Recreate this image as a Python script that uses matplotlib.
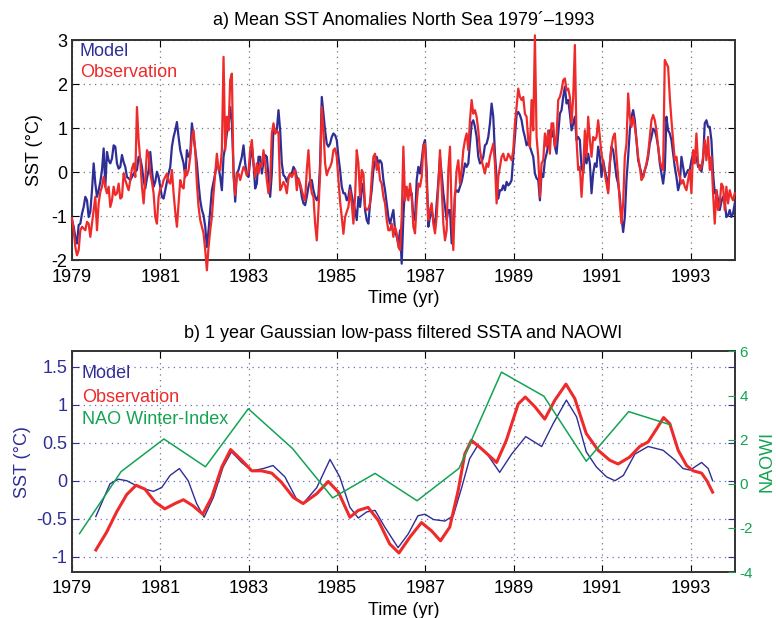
import numpy as np
import matplotlib
matplotlib.use('Agg')
import matplotlib.pyplot as plt

plt.rcParams['font.family'] = ['Liberation Sans', 'DejaVu Sans']
plt.rcParams['axes.unicode_minus'] = False

BLUE = '#2e2e96'
RED = '#ee2a2a'
GREEN = '#14a352'

# ---- panel a: SST anomalies (deg C), about two-weekly samples 1979-1994
model_79 = [-1.09, -1.24, -1.47, -1.62, -1.20, -1.17, -0.94, -0.79, -0.56, -0.64,
            -1.02, -0.90, -0.41, 0.20, -0.26, -0.56, -0.41, -0.22, 0.05, 0.54,
            -0.33, 0.46, 0.27, 0.20, 0.31, 0.61, 0.58, 0.20, 0.08, 0.12,
            0.39, 0.23, 0.12, -0.11, -0.14, -0.18, -0.11, -0.03, 0.01, 0.05,
            0.35, 0.31, 0.12, -0.18, -0.37, -0.14, 0.05, 0.46, 0.05, -0.33,
            -0.22, 0.01, -0.11, -0.33, -0.56, -0.60, -0.41, -0.22, -0.03, 0.12,
            0.58, 0.80, 0.95, 1.14, 0.80, 0.50, 0.35, 0.20, -0.11, 0.50,
            0.35, 0.42, 1.11, 0.80, 0.50, 0.20, -0.26, -0.64, -0.86, -0.98,
            -1.24, -1.70, -1.32, -0.86, -0.41, -0.22, -0.03, 0.20, 0.12, -0.11,
            -0.41, 0.35, 0.58, 0.88, 1.11]
model_82 = [1.48, 1.11, 0.05, -0.67, -0.03, 0.05, 0.20, 0.35, 0.61, 0.20,
            -0.07, -0.11, 0.27, 0.61, 0.20, -0.37, -0.26, 0.35, 0.35, -0.03,
            0.23, 0.39, 0.35, -0.11, -0.56, -0.03, 1.03, 0.88, 0.95, 1.41,
            0.95, 0.20, -0.07, -0.11, -0.22, -0.11, -0.03, -0.03, 0.12, 0.05,
            -0.11, -0.18, -0.30, -0.56, -0.71, -0.75, -0.56, -0.33, -0.18, -0.18,
            -0.41, -0.56, -0.64, -0.52, 0.20, 1.71, 1.33, 0.95, 0.65, 0.58,
            0.65, 0.80, 0.88, 0.84, 0.73, 0.35, 0.05, -0.33, -0.48, -0.48,
            -0.64, -0.56, -0.30, -0.52, -0.71, -0.86, -1.09, -0.56, -0.79, -0.41,
            -0.26, -0.86, -1.09, -1.17, -0.71, -0.41, 0.05, 0.23, 0.35, 0.20,
            0.27, 0.20, -0.18, -0.41, -0.71, -1.02]
model_86 = [-1.17, -1.02, -0.86, -1.32, -1.47, -1.62, -1.32, -2.08, -1.02, -0.33,
            -0.52, -0.41, -0.52, -0.48, -1.02, -1.09, -0.18, 0.12, -0.03, 0.27,
            0.61, 0.73, 0.05, -1.24, -1.02, -0.86, -1.09, -1.24, -0.71, -0.22,
            0.35, -0.03, -0.48, -0.79, -1.09, -0.86, -0.86, -1.62, -1.32, -0.48,
            -0.41, -0.45, -0.33, -0.22, -0.03, 0.20, 0.12, 0.20, 0.65, 1.11,
            1.18, 1.03, 0.80, 0.35, 0.20, 0.23, 0.35, 0.61, 0.65, 0.80,
            1.11, 1.56, 1.26, 0.42, -0.11, -0.60, -0.41, -0.41, -0.30, -0.41,
            -0.22, -0.30, -0.26, -0.18, 0.35, 0.80, 1.30, 1.37, 1.30, 1.18,
            0.95, 0.80, 0.61, 0.69, 0.58, 0.46, 0.35, -0.03, -0.14, -0.18,
            -0.64, -0.03, -0.11, 0.27, 0.42, 0.61]
model_89 = [0.95, 0.80, 0.95, 0.58, 0.42, 0.88, 1.33, 1.41, 1.71, 1.94,
            1.56, 1.64, 1.33, 0.95, 1.11, 1.26, 0.73, 0.80, 0.73, 0.12,
            -0.03, 0.42, 0.20, 0.42, 0.20, -0.48, -0.03, 0.20, 0.12, 0.58,
            0.35, -0.11, 0.27, 0.05, -0.11, -0.41, 0.20, 0.58, 0.50, 0.20,
            -0.11, -0.26, -0.56, -1.02, -1.36, -1.02, -0.18, 0.35, 0.95, 1.26,
            1.41, 1.18, 0.73, 0.27, 0.12, -0.03, -0.11, 0.05, 0.16, 0.35,
            0.65, 0.80, 0.99, 0.95, 0.80, 0.58, 0.20, -0.03, -0.26, 0.05,
            1.26, 0.95, 0.88, 0.73, 0.42, 0.12, -0.11, -0.41, -0.26, 0.35,
            0.12, -0.11, -0.03, 0.05, 0.05, 0.27, 0.42, 0.23, 0.35, 0.12,
            0.16, 0.01, 0.27, 1.11, 1.18, 1.03, 1.03, 0.73, -0.03, -0.48,
            -0.41, -0.64, -0.86, -0.67, -0.56, -0.67, -1.02, -0.98, -0.86, -1.02,
            -0.94, -0.71]

obs_79 = [-1.05, -1.32, -1.70, -1.89, -1.77, -1.32, -1.24, -1.28, -1.32, -1.13,
          -1.17, -1.47, -1.17, -0.86, -0.56, -1.32, -0.71, -0.45, -0.33, -0.11,
          -0.33, -0.48, -0.33, -0.79, -0.64, -0.33, -0.52, -0.48, -0.26, -0.60,
          -0.56, -0.03, -0.18, -0.30, -0.41, -0.18, 0.08, 0.20, -0.11, 1.48,
          0.73, 0.27, -0.33, -0.71, -0.18, 0.50, 0.42, -0.03, -0.22, -0.48,
          -1.02, -1.17, -0.56, -0.37, -0.33, -0.18, -0.11, -0.03, -0.22, -0.26,
          0.05, -0.48, -0.90, -1.24, -0.71, -0.18, -0.33, -0.37, 0.05, -0.07,
          0.05, 0.35, 0.80, 0.95, 0.50, -0.26, -0.79, -1.09, -1.24, -1.39,
          -1.77, -2.23, -1.70, -1.32, -1.02, -0.48, -0.03, 0.42, 0.05, 0.05,
          0.50, 2.62, 0.50, 1.26, 0.95]
obs_82 = [2.09, 2.24, -0.11, -0.52, -0.03, -0.03, -0.18, -0.03, 0.12, 0.05,
          -0.07, 0.01, 0.50, 0.73, 0.20, -0.11, 0.20, -0.03, 0.20, 0.12,
          0.50, 0.20, -0.18, -0.48, -0.18, 0.88, 1.11, 0.88, 0.95, 0.88,
          -0.41, -0.33, -0.22, -0.30, -0.48, -0.14, -0.03, -0.11, -0.03, 0.05,
          -0.41, -0.14, -0.26, -0.41, -0.56, -0.64, 0.05, 0.50, -0.18, -0.48,
          -0.56, -1.17, -1.55, -0.86, -0.03, 1.48, 0.95, 0.20, -0.07, 0.05,
          0.12, 0.23, 0.50, 0.54, 0.35, -0.18, -0.67, -1.02, -1.40, -1.02,
          -0.90, -0.79, -0.41, -0.71, -1.17, -0.56, 0.50, 0.20, -0.56, 0.05,
          -0.03, -0.79, -0.86, -0.83, -0.71, -0.11, 0.35, 0.42, 0.05, 0.20,
          -0.18, -0.26, -0.56, -0.71, -1.09, -1.32]
obs_86 = [-1.32, -1.17, -1.47, -1.24, -1.39, -1.70, -1.77, -1.02, 0.58, -0.64,
          -0.33, -0.64, -0.26, -0.56, -1.24, -1.39, -0.71, -0.26, -0.33, -0.11,
          0.58, 0.65, -0.26, -1.09, -0.86, -0.71, -1.17, -1.39, -1.02, -0.33,
          0.50, -0.33, -1.17, -1.55, -1.32, 0.05, 0.58, -0.94, -1.77, -0.56,
          0.05, 0.27, -0.26, 0.05, 0.50, 0.73, 0.88, 0.50, 1.18, 1.64,
          1.33, 1.41, 1.26, 0.95, 0.50, 0.27, 0.12, -0.03, 0.20, 0.12,
          0.35, 0.50, 0.65, 0.20, -0.71, -0.11, 0.12, 0.35, 0.42, 0.27,
          0.27, 0.42, 0.35, 0.27, 0.50, 1.11, 1.48, 1.90, 1.71, 1.64,
          1.71, 1.33, 1.26, 0.73, 0.58, 1.64, 0.95, 3.11, 0.80, 0.35,
          -0.56, 0.20, 0.27, 0.88, 0.58, 0.95]
obs_89 = [0.42, 1.11, 1.11, 0.58, 0.80, 1.64, 1.71, 1.86, 2.09, 2.13,
          1.86, 1.90, 1.71, 1.11, 1.71, 2.89, 0.73, 0.05, 0.12, -0.56,
          0.05, 0.95, 0.35, 1.26, 0.73, 0.35, 0.80, 0.73, 0.80, 1.18,
          0.80, 0.42, 0.20, -0.03, -0.26, -0.48, 0.20, 0.58, 0.80, 0.88,
          0.35, -0.11, -0.71, -1.17, -0.71, 0.35, 0.65, 1.79, 1.26, 1.03,
          1.26, 1.03, 0.73, 0.35, 0.12, -0.18, -0.11, 0.05, 0.20, 0.42,
          0.80, 1.18, 1.30, 1.18, 0.95, 0.58, 0.27, 0.12, 0.05, 2.55,
          2.47, 2.39, 1.71, 1.18, 0.73, 0.27, 0.35, 0.05, -0.11, -0.26,
          -0.18, -0.33, -0.41, -0.18, 0.05, -0.48, 0.50, 0.20, 0.88, 0.20,
          0.05, 0.12, 0.35, 0.73, 0.27, 0.80, 0.05, 0.35, -0.48, -1.17,
          -0.41, -0.86, -0.71, -0.26, -0.33, -0.86, -0.33, -0.71, -0.41, -0.56,
          -0.64, -0.48]

model_sst = model_79 + model_82 + model_86 + model_89
obs_sst = obs_79 + obs_82 + obs_86 + obs_89
t_sst = np.linspace(1979.0, 1994.0, len(model_sst))

# ---- panel b: 1 year low-pass filtered SSTA and NAO winter index
lp_model_t = [1979.54, 1979.86, 1980.05, 1980.24, 1980.54, 1980.84, 1981.03, 1981.22,
              1981.43, 1981.63, 1981.82, 1981.99, 1982.20, 1982.42, 1982.61, 1982.84,
              1983.07, 1983.33, 1983.55, 1983.82, 1984.08, 1984.23, 1984.54, 1984.84,
              1985.06, 1985.29, 1985.48, 1985.67, 1985.86, 1986.08, 1986.38, 1986.61,
              1986.83, 1986.99, 1987.18, 1987.44, 1987.63, 1987.82, 1988.00, 1988.19,
              1988.42, 1988.68, 1988.95, 1989.27, 1989.63, 1989.89, 1990.19, 1990.42,
              1990.64, 1990.87, 1991.10, 1991.29, 1991.48, 1991.74, 1992.04, 1992.38,
              1992.65, 1992.83, 1992.99, 1993.25, 1993.40, 1993.50]
lp_model = [-0.47, -0.04, 0.02, 0.00, -0.09, -0.14, -0.09, 0.07,
            0.16, 0.00, -0.30, -0.48, -0.22, 0.18, 0.38, 0.24,
            0.13, 0.16, 0.20, 0.05, -0.24, -0.30, -0.09, 0.28,
            0.05, -0.35, -0.49, -0.41, -0.39, -0.61, -0.88, -0.70,
            -0.46, -0.44, -0.51, -0.53, -0.46, -0.09, 0.29, 0.47,
            0.33, 0.11, 0.35, 0.58, 0.45, 0.75, 1.06, 0.84,
            0.38, 0.18, 0.05, 0.00, 0.07, 0.35, 0.45, 0.40,
            0.27, 0.16, 0.14, 0.24, 0.16, 0.00]
lp_obs_t = [1979.54, 1979.78, 1980.01, 1980.24, 1980.45, 1980.65, 1980.88, 1981.10,
            1981.33, 1981.52, 1981.74, 1981.96, 1982.16, 1982.39, 1982.59, 1982.84,
            1983.07, 1983.29, 1983.52, 1983.74, 1984.01, 1984.23, 1984.54, 1984.80,
            1985.03, 1985.29, 1985.48, 1985.70, 1985.93, 1986.19, 1986.40, 1986.65,
            1986.91, 1987.14, 1987.34, 1987.55, 1987.74, 1987.89, 1988.04, 1988.27,
            1988.61, 1988.83, 1989.10, 1989.26, 1989.48, 1989.70, 1989.93, 1990.18,
            1990.38, 1990.64, 1990.91, 1991.17, 1991.36, 1991.62, 1991.85, 1992.04,
            1992.23, 1992.39, 1992.53, 1992.72, 1992.91, 1993.06, 1993.25, 1993.37,
            1993.50]
lp_obs = [-0.91, -0.68, -0.41, -0.18, -0.06, -0.11, -0.28, -0.37,
          -0.30, -0.25, -0.33, -0.44, -0.22, 0.18, 0.41, 0.27,
          0.13, 0.13, 0.10, -0.02, -0.22, -0.30, -0.17, -0.01,
          -0.15, -0.48, -0.39, -0.35, -0.52, -0.83, -0.95, -0.74,
          -0.55, -0.66, -0.79, -0.61, -0.13, 0.35, 0.53, 0.42,
          0.24, 0.53, 1.01, 1.10, 0.97, 0.81, 1.06, 1.27,
          1.08, 0.62, 0.40, 0.27, 0.22, 0.31, 0.45, 0.51,
          0.68, 0.83, 0.75, 0.40, 0.20, 0.13, 0.10, 0.00,
          -0.15]
nao_t = [1979.17, 1980.11, 1981.08, 1982.02, 1982.99, 1983.99, 1984.90, 1985.86,
         1986.81, 1987.76, 1988.72, 1989.68, 1990.64, 1991.60, 1992.55]
nao = [-2.26, 0.55, 2.03, 0.77, 3.40, 1.60, -0.64, 0.47,
       -0.77, 0.70, 5.06, 3.97, 1.02, 3.27, 2.67]

year_ticks = list(range(1979, 1994, 2))
lp_ticks = [-1, -0.5, 0, 0.5, 1, 1.5]
lp_tick_labels = ['-1', '-0.5', '0', '0.5', '1', '1.5']

fig = plt.figure(figsize=(7.76, 6.18), dpi=100)

# top panel
ax = fig.add_axes([0.0928, 0.579, 0.854, 0.356])
ax.plot(t_sst, model_sst, color=BLUE, lw=1.6, clip_on=False, zorder=3)
ax.plot(t_sst, obs_sst, color=RED, lw=1.6, clip_on=False, zorder=4)
ax.set_xlim(1979, 1994)
ax.set_ylim(-2, 3)
ax.set_xticks(year_ticks)
ax.set_yticks(range(-2, 4))
ax.grid(True, linestyle=(0, (1, 3.5)), color='#777777', lw=0.9)
ax.tick_params(direction='in', top=True, right=True, length=5, labelsize=13)
ax.tick_params(axis='x', pad=6)
for s in ax.spines.values():
    s.set_linewidth(1.4)
    s.set_color('#333333')
ax.set_title('a) Mean SST Anomalies North Sea 1979\u00b4\u20131993', fontsize=13, pad=11)
ax.set_xlabel('Time (yr)', fontsize=13, labelpad=3)
ax.set_ylabel('SST (\u00b0C)', fontsize=13, labelpad=6)
ax.text(0.012, 0.95, 'Model', color=BLUE, fontsize=13, va='center', transform=ax.transAxes)
ax.text(0.012, 0.855, 'Observation', color=RED, fontsize=13, va='center', transform=ax.transAxes)

# bottom panel
bx = fig.add_axes([0.0928, 0.0744, 0.854, 0.357])
bx.plot(lp_model_t, lp_model, color=BLUE, lw=1.0, zorder=3)
bx.plot(lp_obs_t, lp_obs, color=RED, lw=2.2, zorder=4)
bx.set_xlim(1979, 1994)
bx.set_ylim(-1.2, 1.7)
bx.set_xticks(year_ticks)
bx.set_yticks(lp_ticks)
bx.set_yticklabels(lp_tick_labels)
bx.xaxis.grid(True, linestyle=(0, (1, 3.5)), color='#777777', lw=0.9)
bx.yaxis.grid(True, linestyle=(0, (1, 3.5)), color='#6a6ac8', lw=0.9)
for s in bx.spines.values():
    s.set_linewidth(1.4)
    s.set_color('#333333')
bx.set_title('b) 1 year Gaussian low-pass filtered SSTA and NAOWI', fontsize=13, pad=10)
bx.set_xlabel('Time (yr)', fontsize=13, labelpad=3)
bx.set_ylabel('SST (\u00b0C)', fontsize=13, color=BLUE, labelpad=4)
bx.text(0.015, 0.90, 'Model', color=BLUE, fontsize=13, va='center', transform=bx.transAxes)
bx.text(0.015, 0.79, 'Observation', color=RED, fontsize=13, va='center', transform=bx.transAxes)
bx.text(0.015, 0.69, 'NAO Winter-Index', color=GREEN, fontsize=13, va='center', transform=bx.transAxes)

cx = bx.twinx()
cx.plot(nao_t, nao, color=GREEN, lw=1.1, zorder=2)
cx.set_ylim(-4, 6)
cx.set_yticks(range(-4, 7, 2))
cx.tick_params(axis='y', direction='in', length=5, colors=GREEN, labelsize=11)
cx.set_ylabel('NAOWI', color=GREEN, fontsize=13, labelpad=4)
for s in cx.spines.values():
    s.set_visible(False)

bx.tick_params(axis='x', direction='in', top=True, length=5, labelsize=13, pad=6)
bx.tick_params(axis='y', direction='in', left=True, right=True, length=5,
               labelsize=13, colors=BLUE)

fig.savefig('out.png', dpi=100)
